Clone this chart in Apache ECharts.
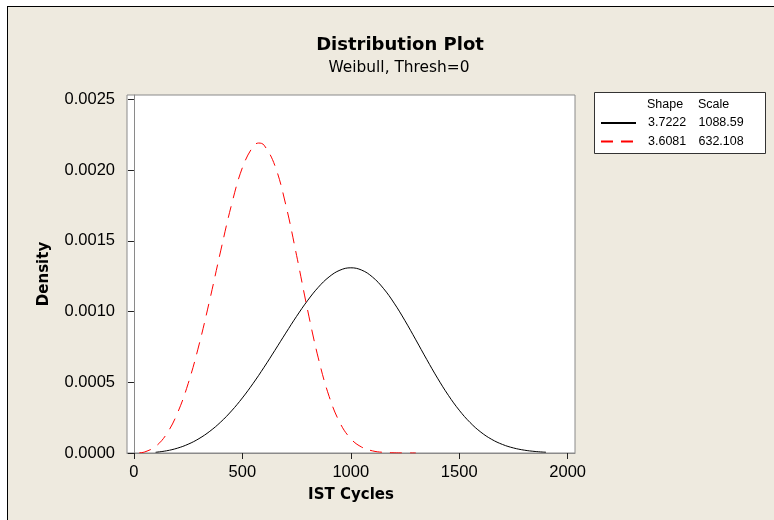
<!DOCTYPE html>
<html>
<head>
<meta charset="utf-8">
<script src="https://cdn.jsdelivr.net/npm/echarts@6/dist/echarts.min.js"></script>
<style>
  html, body { margin: 0; padding: 0; background: #ffffff; }
  #bg { position: absolute; left: 7px; top: 6px; width: 767px; height: 514px; background: #EEEADF;
        border-left: 1.5px solid #000; border-top: 1.5px solid #000; box-sizing: border-box; }
  #main { position: absolute; left: 0; top: 0; width: 774px; height: 520px; }
</style>
</head>
<body>
<div id="bg"></div>
<div id="main"></div>
<script>
// ---- data ----
var xTicks = [0, 500, 1000, 1500, 2000];
var yTicks = [0, 0.0005, 0.0010, 0.0015, 0.0020, 0.0025];

var legendShape = ['3.7222', '3.6081'];
var legendScale = ['1088.59', '632.108'];
var seriesNames = ['Shape 3.7222 Scale 1088.59', 'Shape 3.6081 Scale 632.108'];

var blackX = [100, 150, 200, 250, 300, 350, 400, 450, 500, 550, 600, 650, 700, 750, 800, 850, 900, 950, 1000,
              1050, 1100, 1150, 1200, 1250, 1300, 1350, 1400, 1450, 1500, 1550, 1600, 1650, 1700, 1750, 1800, 1850, 1900];
var blackY = [0.0000051, 0.0000155, 0.0000339, 0.0000621, 0.0001016, 0.0001536, 0.0002187, 0.0002974, 0.0003892,
              0.0004928, 0.0006059, 0.0007255, 0.0008472, 0.0009660, 0.0010759, 0.0011710, 0.0012448, 0.0012922, 0.0013090,
              0.0012929, 0.0012439, 0.0011644, 0.0010591, 0.0009349, 0.0007997, 0.0006619, 0.0005291, 0.0004078, 0.0003026,
              0.0002156, 0.0001473, 0.0000963, 0.0000601, 0.0000357, 0.0000202, 0.0000108, 0.0000055];

var redX = [25, 50, 100, 150, 200, 250, 300, 350, 400, 450, 500, 550, 575, 600, 650, 700, 750, 800, 850, 900, 950,
            1000, 1050, 1100, 1150, 1200, 1250, 1300];
var redY = [0.0000013, 0.0000076, 0.0000465, 0.0001333, 0.0002794, 0.0004904, 0.0007636, 0.0010849, 0.0014284,
            0.0017544, 0.0020163, 0.0021677, 0.0021909, 0.0021758, 0.0020314, 0.0017558, 0.0013972, 0.0010169,
            0.0006723, 0.0004006, 0.0002133, 0.0001007, 0.0000418, 0.0000151, 0.0000047, 0.0000012, 0.0000003, 0.0000001];

function pairs(xs, ys) { var out = []; for (var i = 0; i < xs.length; i++) out.push([xs[i], ys[i]]); return out; }

var chart = echarts.init(document.getElementById('main'), null, { renderer: 'canvas' });
var option = {
  backgroundColor: 'transparent',
  animation: false,
  title: [
    { text: 'Distribution Plot', left: 395, top: 31, textAlign: 'center',
      textStyle: { fontFamily: 'DejaVu Sans', fontWeight: 'bold', fontSize: 18, color: '#000' } },
    { text: 'Weibull, Thresh=0', left: 394, top: 55, textAlign: 'center',
      textStyle: { fontFamily: 'DejaVu Sans', fontWeight: 'normal', fontSize: 15.4, color: '#000' } }
  ],
  grid: { left: 127, top: 95, width: 448, height: 358, show: true, backgroundColor: '#ffffff',
          borderColor: '#8a8a8a', borderWidth: 1 },
  xAxis: {
    type: 'value', min: -32, max: 2034,
    name: 'IST Cycles', nameLocation: 'middle', nameGap: 35,
    nameTextStyle: { fontFamily: 'DejaVu Sans', fontWeight: 'bold', fontSize: 15, color: '#000' },
    axisLine: { show: true, lineStyle: { color: '#8a8a8a', width: 1 } },
    axisTick: { show: true, length: 6, inside: false, customValues: xTicks, lineStyle: { color: '#222' } },
    axisLabel: { customValues: xTicks, margin: 11, fontFamily: 'Liberation Sans', fontSize: 16.5, color: '#000',
                 formatter: function (v) { return String(v); } },
    splitLine: { show: false }
  },
  yAxis: {
    type: 'value', min: 0, max: 0.0025304,
    name: 'Density', nameLocation: 'middle', nameGap: 75,
    nameTextStyle: { fontFamily: 'DejaVu Sans', fontWeight: 'bold', fontSize: 15, color: '#000' },
    axisLine: { show: true, lineStyle: { color: '#8a8a8a', width: 1 } },
    axisTick: { show: true, length: 6, inside: false, customValues: yTicks, lineStyle: { color: '#222' } },
    axisLabel: { customValues: yTicks, margin: 12, fontFamily: 'Liberation Sans', fontSize: 16.5, color: '#000',
                 formatter: function (v) { return v.toFixed(4); } },
    splitLine: { show: false }
  },
  legend: {
    orient: 'vertical', left: 600, top: 116, padding: 0,
    itemWidth: 35, itemHeight: 14, itemGap: 4.5,
    data: seriesNames,
    itemStyle: { color: 'transparent', borderColor: 'transparent', borderWidth: 0, opacity: 0 },
    textStyle: { fontFamily: 'Liberation Sans', fontSize: 12.5, color: '#000', lineHeight: 14,
      rich: { s: { width: 7 }, a: { width: 50.5, fontSize: 12.5, fontFamily: 'Liberation Sans' },
              b: { fontSize: 12.5, fontFamily: 'Liberation Sans' } } },
    formatter: function (name) {
      var i = seriesNames.indexOf(name);
      return '{s| }{a|' + legendShape[i] + '}{b|' + legendScale[i] + '}';
    }
  },
  graphic: [
    { type: 'rect', z: 0, shape: { x: 594.5, y: 92.5, width: 171, height: 61 },
      style: { fill: '#ffffff', stroke: '#333', lineWidth: 1 } },
    { type: 'text', z: 100, left: 647, top: 98.5,
      style: { text: 'Shape', font: '12.5px "Liberation Sans"', fill: '#000' } },
    { type: 'text', z: 100, left: 698, top: 98.5,
      style: { text: 'Scale', font: '12.5px "Liberation Sans"', fill: '#000' } }
  ],
  series: [
    { name: seriesNames[0], type: 'line', data: pairs(blackX, blackY), symbol: 'none', smooth: 0.4,
      lineStyle: { color: '#000', width: 1, type: 'solid' }, itemStyle: { color: '#000' }, z: 3 },
    { name: seriesNames[1], type: 'line', data: pairs(redX, redY), symbol: 'none', smooth: 0.4,
      lineStyle: { color: '#ff0000', width: 1, type: [12, 8] }, itemStyle: { color: '#ff0000' }, z: 4 }
  ]
};
chart.setOption(option);
</script>
</body>
</html>
